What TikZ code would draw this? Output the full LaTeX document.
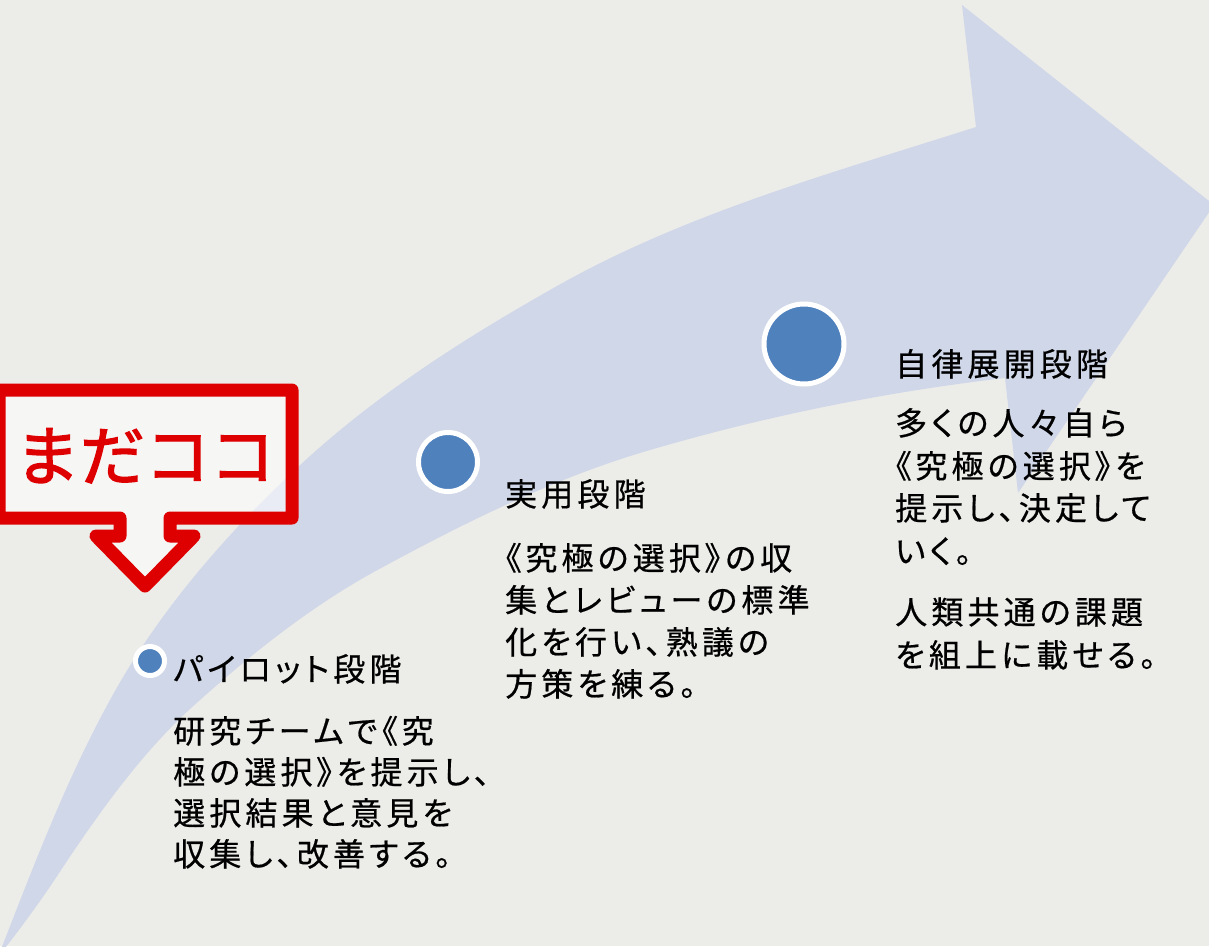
\documentclass[tikz,border=0pt]{standalone}
\usepackage{fontspec}
\newfontfamily\jp[RawFeature=+palt,LetterSpace=13,FakeBold=0.6]{Noto Sans CJK JP}
\newfontfamily\jpred[FakeBold=2]{Noto Sans CJK JP}
\definecolor{bgc}{RGB}{236,236,233}
\definecolor{arrowc}{RGB}{208,215,232}
\definecolor{dotc}{RGB}{79,129,189}
\definecolor{redc}{RGB}{222,0,0}
\tikzset{
  jptext/.style={font=\jp\fontsize{32}{40}\selectfont, anchor=base west, inner sep=0pt, text=black},
  stagedot/.style={circle, fill=dotc, draw=white, line width=5pt, inner sep=0pt},
  callout/.style={draw=redc, line width=13pt, line join=round, fill=white, fill opacity=0.55}
}
\begin{document}
\begin{tikzpicture}[x=1pt,y=-1pt]
\useasboundingbox (0,0) rectangle (1209,946);
\fill[bgc] (0,0) rectangle (1209,946);
% big curved arrow
\fill[arrowc] (-2,957)
  .. controls (32,870) and (65,782) .. (110,700)
  .. controls (158,612) and (225,535) .. (298,467)
  .. controls (373,397) and (460,341) .. (550,290)
  .. controls (682,214) and (832,173) .. (976,127)
  -- (962,5) -- (1214,205) -- (1018,493) -- (1005,378)
  .. controls (885,392) and (766,416) .. (650,450)
  .. controls (557,477) and (468,521) .. (383,567)
  .. controls (317,602) and (256,650) .. (200,700)
  .. controls (146,747) and (103,807) .. (63,867)
  .. controls (43,898) and (21,928) .. (-2,957)
  -- cycle;
% stage dots
\node[stagedot, minimum size=29pt] (d1) at (150,661) {};
\node[stagedot, minimum size=59pt] (d2) at (448,462) {};
\node[stagedot, minimum size=80pt] (d3) at (804,344) {};
% callout
\path[callout] (-1,390) -- (292,390) -- (292,518) -- (170,518) -- (170,536) -- (194,536)
  -- (145,586) -- (96,536) -- (120,536) -- (120,518) -- (-1,518) -- cycle;
\node[font=\jpred\fontsize{65}{65}\selectfont, text=redc, anchor=base, inner sep=0pt] (mada) at (145,480) {まだココ};
% pilot stage
\node[jptext] (h1) at (173,681) {パイロット段階};
\node[jptext] (b11) at (173,743) {研究チームで《究};
\node[jptext] (b12) at (173,784) {極の選択》を提示し、};
\node[jptext] (b13) at (173,825) {選択結果と意見を};
\node[jptext] (b14) at (173,866) {収集し、改善する。};
% practical stage
\node[jptext] (h2) at (505,506) {実用段階};
\node[jptext] (b21) at (505,570) {《究極の選択》の収};
\node[jptext] (b22) at (505,612) {集とレビューの標準};
\node[jptext] (b23) at (505,654) {化を行い、熟議の};
\node[jptext] (b24) at (505,696) {方策を練る。};
% autonomous stage
\node[jptext] (h3) at (895,376) {自律展開段階};
\node[jptext] (b31) at (895,435) {多くの人々自ら};
\node[jptext] (b32) at (895,478) {《究極の選択》を};
\node[jptext] (b33) at (895,520) {提示し、決定して};
\node[jptext] (b34) at (895,563) {いく。};
\node[jptext] (b35) at (895,624) {人類共通の課題};
\node[jptext] (b36) at (895,667) {を組上に載せる。};
\end{tikzpicture}
\end{document}
